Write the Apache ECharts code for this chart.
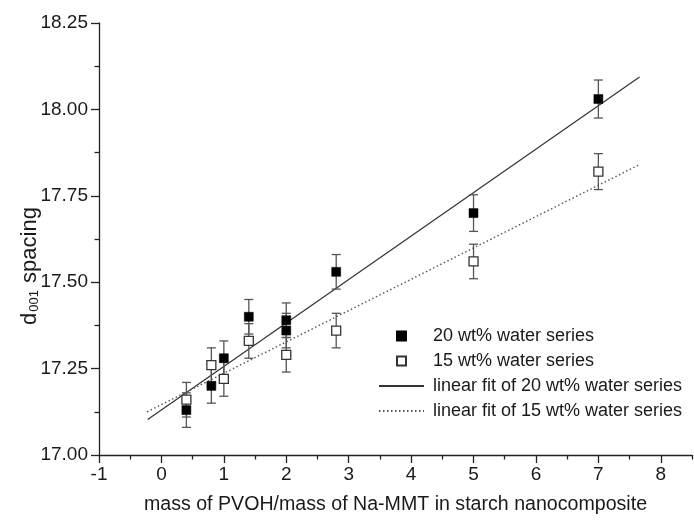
<!DOCTYPE html>
<html><head><meta charset="utf-8">
<script src="https://cdn.jsdelivr.net/npm/echarts@6/dist/echarts.min.js"></script>
<style>html,body{margin:0;padding:0;background:#fff}#c{width:694px;height:520px}</style>
</head><body><div id="c"></div>
<script>
// ---- data ----
const ratio20 = [0.4, 0.8, 1.0, 1.4, 2.0, 2.0, 2.8, 5.0, 7.0];
const d20 = [17.13, 17.20, 17.28, 17.40, 17.39, 17.36, 17.53, 17.70, 18.03];
const err20 = [0.05, 0.05, 0.05, 0.05, 0.05, 0.05, 0.05, 0.053, 0.055];
const ratio15 = [0.4, 0.8, 1.0, 1.4, 2.0, 2.8, 5.0, 7.0];
const d15 = [17.16, 17.26, 17.22, 17.33, 17.29, 17.36, 17.56, 17.82];
const err15 = [0.05, 0.05, 0.05, 0.05, 0.05, 0.05, 0.05, 0.052];
const fit20X = [-0.22, 7.66];
const fit20Y = [17.103, 18.094];
const fit15X = [-0.23, 7.645];
const fit15Y = [17.125, 17.839];
const xTickLabels = [-1, 0, 1, 2, 3, 4, 5, 6, 7, 8];
const xMinorTicks = [-0.5, 0.5, 1.5, 2.5, 3.5, 4.5, 5.5, 6.5, 7.5, 8.5];
const seriesNames = ['20 wt% water series', '15 wt% water series',
  'linear fit of 20 wt% water series', 'linear fit of 15 wt% water series'];

const FONT = "'Liberation Sans', Arial, Helvetica, sans-serif";
const TXT = '#1a1a1a';
const SQUARE = 'path://M0,0L10,0L10,10L0,10Z';

function pts(xs, ys) { return xs.map((x, i) => [x, ys[i]]); }
function errData(xs, ys, es) { return xs.map((x, i) => [x, ys[i], es[i]]); }

function errRender(params, api) {
  const x = api.value(0), y = api.value(1), e = api.value(2);
  const top = api.coord([x, y + e]);
  const bot = api.coord([x, y - e]);
  const hw = 4.5;
  const style = { stroke: '#555', lineWidth: 1.3, fill: null };
  return { type: 'group', children: [
    { type: 'line', shape: { x1: top[0], y1: top[1], x2: bot[0], y2: bot[1] }, style: style },
    { type: 'line', shape: { x1: top[0] - hw, y1: top[1], x2: top[0] + hw, y2: top[1] }, style: style },
    { type: 'line', shape: { x1: bot[0] - hw, y1: bot[1], x2: bot[0] + hw, y2: bot[1] }, style: style }
  ]};
}

const chart = echarts.init(document.getElementById('c'), null, { renderer: 'canvas' });
chart.setOption({
  animation: false,
  backgroundColor: '#fff',
  textStyle: { fontFamily: FONT, color: TXT },
  grid: { left: 99, right: 2, top: 23, bottom: 59, containLabel: false },
  legend: {
    orient: 'vertical', left: 378, top: 327, padding: 0,
    itemWidth: 45, itemHeight: 9, itemGap: 7,
    textStyle: { fontFamily: FONT, fontSize: 18, color: TXT, padding: [0, 0, 0, 4] },
    data: [
      { name: seriesNames[0], icon: SQUARE },
      { name: seriesNames[1], icon: SQUARE },
      { name: seriesNames[2], itemStyle: { opacity: 0 } },
      { name: seriesNames[3], itemStyle: { opacity: 0 } }
    ]
  },
  xAxis: [{
    type: 'value', min: -1, max: 8.5, interval: 1,
    name: 'mass of PVOH/mass of Na-MMT in starch nanocomposite',
    nameLocation: 'middle', nameGap: 40,
    nameTextStyle: { fontFamily: FONT, fontSize: 19.6, color: TXT },
    axisLine: { onZero: false, lineStyle: { color: '#222', width: 1.3 } },
    axisTick: { show: true, inside: false, length: 8, customValues: xTickLabels, lineStyle: { color: '#222', width: 1.3 } },
    axisLabel: { customValues: xTickLabels, margin: 10, fontFamily: FONT, fontSize: 19, color: TXT },
    splitLine: { show: false }
  }, {
    type: 'value', min: -1, max: 8.5, interval: 0.5, position: 'bottom',
    axisLine: { show: false, onZero: false },
    axisTick: { show: true, inside: false, length: 4.5, customValues: xMinorTicks, lineStyle: { color: '#222', width: 1.3 } },
    axisLabel: { show: false },
    splitLine: { show: false }
  }],
  yAxis: {
    type: 'value', min: 17, max: 18.25, interval: 0.25,
    name: '{d|d}{s|001}{d| spacing}',
    nameLocation: 'middle', nameGap: 58, nameMoveOverlap: false,
    nameTextStyle: {
      fontFamily: FONT, color: TXT, padding: [0, 54, 0, 0],
      rich: {
        d: { fontFamily: FONT, fontSize: 22, color: TXT },
        s: { fontFamily: FONT, fontSize: 13, color: TXT, padding: [10, 1, 0, 1] }
      }
    },
    axisLine: { show: true, onZero: false, lineStyle: { color: '#222', width: 1.3 } },
    axisTick: { show: true, inside: false, length: 8, lineStyle: { color: '#222', width: 1.3 } },
    minorTick: { show: true, splitNumber: 2, length: 4.5, lineStyle: { color: '#222', width: 1.3 } },
    axisLabel: { margin: 11, fontFamily: FONT, fontSize: 19, color: TXT, formatter: v => v.toFixed(2) },
    splitLine: { show: false }
  },
  series: [
    { type: 'line', name: seriesNames[2], data: pts(fit20X, fit20Y), symbol: 'none', z: 2,
      lineStyle: { color: '#333', width: 1.2, type: 'solid' }, itemStyle: { color: '#333' } },
    { type: 'line', name: seriesNames[3], data: pts(fit15X, fit15Y), symbol: 'none', z: 2,
      lineStyle: { color: '#555', width: 1.4, type: [1.5, 2.5] }, itemStyle: { color: '#555' } },
    { type: 'custom', name: 'err20', data: errData(ratio20, d20, err20), renderItem: errRender, z: 3,
      encode: { x: 0, y: 1 } },
    { type: 'custom', name: 'err15', data: errData(ratio15, d15, err15), renderItem: errRender, z: 3,
      encode: { x: 0, y: 1 } },
    { type: 'scatter', name: seriesNames[1], data: pts(ratio15, d15), symbol: 'rect', symbolSize: 9, z: 4,
      itemStyle: { color: '#fff', borderColor: '#333', borderWidth: 1.3, opacity: 1 } },
    { type: 'scatter', name: seriesNames[0], data: pts(ratio20, d20), symbol: 'rect', symbolSize: 9, z: 5,
      itemStyle: { color: '#000', borderColor: '#000', borderWidth: 0.5, opacity: 1 } }
  ]
});
</script></body></html>
